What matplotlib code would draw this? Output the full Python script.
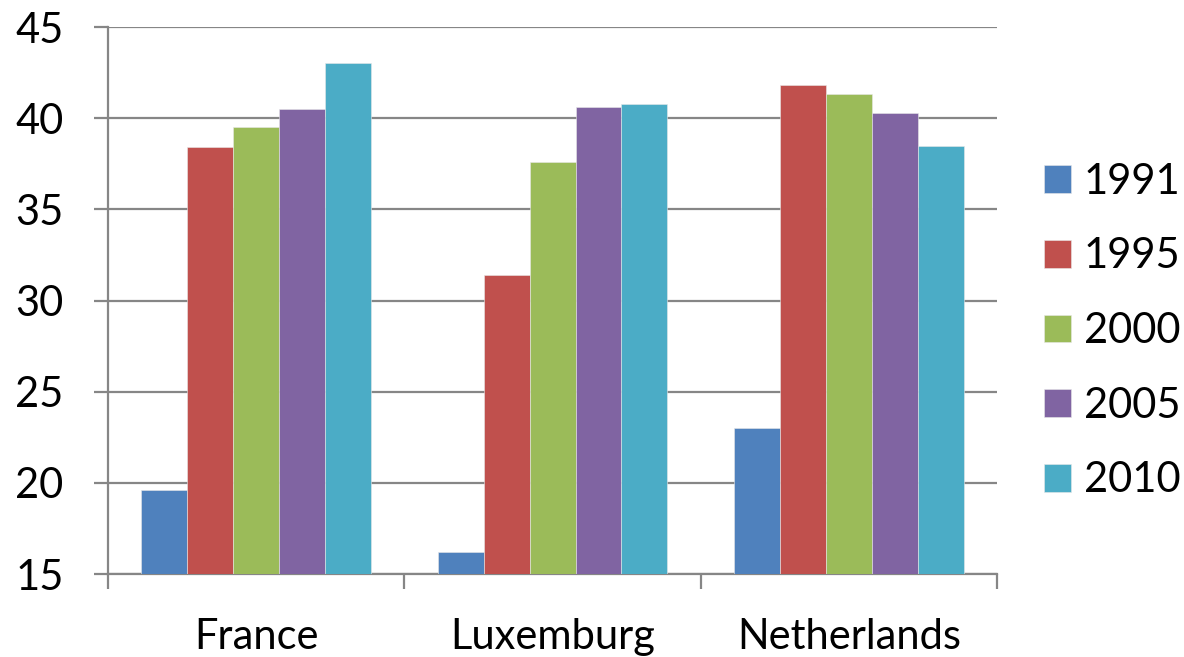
import matplotlib
matplotlib.use("Agg")
import matplotlib.pyplot as plt
import numpy as np

# values per country, one list per survey year
countries = ["France", "Luxemburg", "Netherlands"]
years = ["1991", "1995", "2000", "2005", "2010"]
v1991 = [19.6, 16.2, 23.0]
v1995 = [38.4, 31.4, 41.8]
v2000 = [39.5, 37.6, 41.3]
v2005 = [40.5, 40.6, 40.3]
v2010 = [43.0, 40.8, 38.5]
series = [v1991, v1995, v2000, v2005, v2010]
colors = ["#4F81BD", "#C0504D", "#9BBB59", "#8064A2", "#4BACC6"]

plt.rcParams['font.family'] = ['Lato', 'DejaVu Sans']
grey = "#868686"

fig = plt.figure(figsize=(11.84, 6.57), dpi=100)
ax = fig.add_axes([0.0912, 0.1263, 0.751, 0.8326])

x = np.arange(len(countries))
w = 0.155
for i, vals in enumerate(series):
    ax.bar(x + (i - 2) * w, np.array(vals) - 15, w, bottom=15,
           color=colors[i], label=years[i], zorder=3,
           edgecolor="#e8e8e8", linewidth=0.4)

ax.set_xlim(-0.5, 2.5)
ax.set_ylim(15, 45)
ax.set_yticks(range(15, 46, 5))
ax.set_xticks(x)
ax.set_xticklabels(countries)
ax.set_xticks([-0.5, 0.5, 1.5, 2.5], minor=True)

ax.yaxis.grid(True, color=grey, linewidth=1.6, zorder=0)
for s in ["top", "right"]:
    ax.spines[s].set_visible(False)
for s in ["left", "bottom"]:
    ax.spines[s].set_color(grey)
    ax.spines[s].set_linewidth(1.6)

ax.tick_params(axis="y", length=10, width=1.6, color=grey, pad=22, labelsize=30)
ax.tick_params(axis="x", which="major", length=0, pad=32, labelsize=30)
ax.tick_params(axis="x", which="minor", length=11, width=1.6, color=grey)

ax.legend(loc="center left", bbox_to_anchor=(1.053, 0.444), frameon=False,
          fontsize=30, handlelength=0.65, handleheight=0.65,
          handletextpad=0.3, labelspacing=0.88, borderpad=0,
          borderaxespad=0)

fig.savefig("out.png", dpi=100)
